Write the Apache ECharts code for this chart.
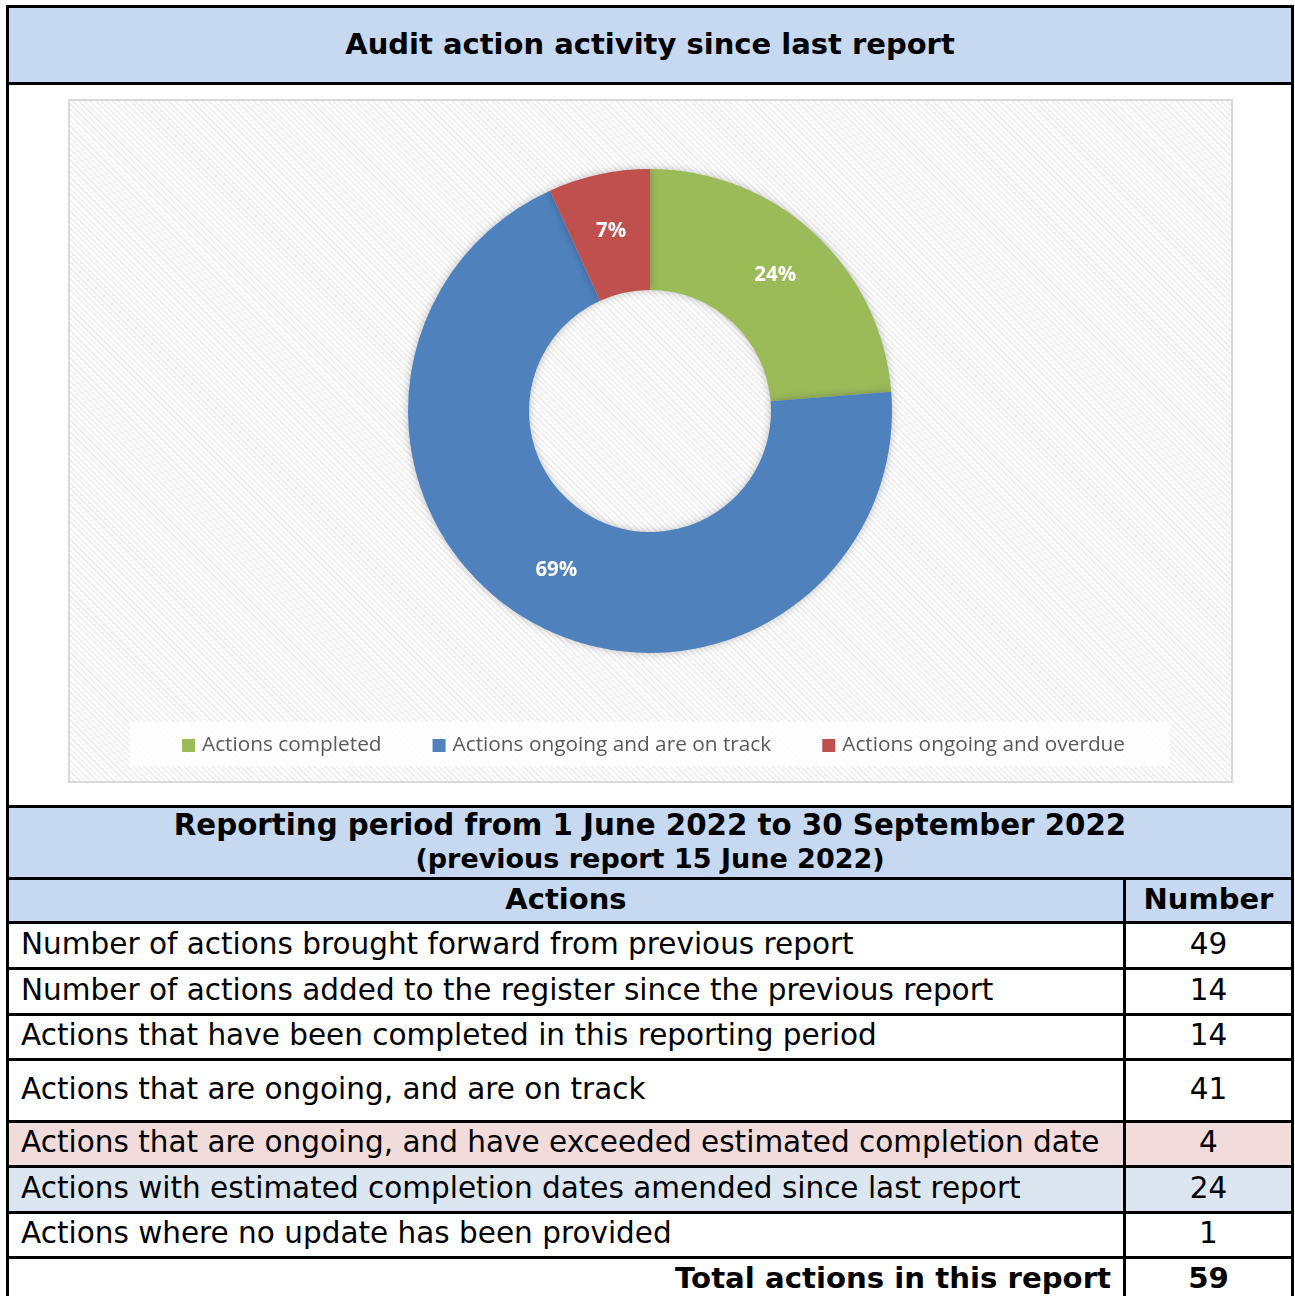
<!DOCTYPE html>
<html>
<head>
<meta charset="utf-8">
<script src="https://cdn.jsdelivr.net/npm/echarts@6/dist/echarts.min.js"></script>
<style>
    html, body { margin: 0; padding: 0; background: #fff; }
    body { width: 1295px; height: 1296px; position: relative; overflow: hidden; font-family: "DejaVu Sans", Verdana, sans-serif; color: #000; }
    #titleBand { position: absolute; left: 6px; top: 5px; width: 1288px; height: 80px; box-sizing: border-box; border: 3px solid #000; background: #c6d9f1; text-align: center; font-weight: bold; font-size: 29px; line-height: 72px; }
    #chartFrame { position: absolute; left: 6px; top: 82px; width: 1288px; height: 726px; box-sizing: border-box; border-left: 3px solid #000; border-right: 3px solid #000; }
    #map { position: absolute; left: 68px; top: 99px; width: 1165px; height: 684px; box-sizing: border-box; border: 2px solid #d9d9d9;
        background: repeating-linear-gradient(45deg, #ffffff 0px, #ffffff 2px, #f0f0f0 2px, #f0f0f0 4px); }
    #tbl { position: absolute; left: 6px; top: 805px; width: 1288px; border-collapse: collapse; table-layout: fixed; }
    #tbl td { border: 3px solid #000; padding: 0 12px 4px 12px; font-size: 29.5px; white-space: nowrap; overflow: hidden; line-height: 36px; }
    #tbl td.num { text-align: center; padding: 0 0 4px 0; }
    #tbl tr.head td { background: #c6d9f1; font-weight: bold; text-align: center; font-size: 29px; }
    #tbl tr.period td { line-height: 33px; padding-top: 0; padding-bottom: 2px; font-size: 29.3px; }
    #tbl tr.period .l2 { font-size: 27px; }
    #tbl tr.pink td { background: #f2dcdb; }
    #tbl tr.lblue td { background: #dce6f1; }
    #tbl tr.total td { font-weight: bold; font-size: 29.2px; }
    #tbl tr.total td.lab { text-align: right; }
</style>
</head>
<body>
<div id="titleBand"></div>
<div id="chartFrame"></div>
<div id="map"></div>
<table id="tbl"></table>
<script>
'use strict';
(function() {

    var titleText = 'Audit action activity since last report';
    var periodLine1 = 'Reporting period from 1 June 2022 to 30 September 2022';
    var periodLine2 = '(previous report 15 June 2022)';
    var colHeads = ['Actions', 'Number'];

    var sliceNames = ['Actions completed', 'Actions ongoing and are on track', 'Actions ongoing and overdue'];
    var sliceValues = [14, 41, 4];
    var sliceColors = ['#9bbb59', '#4f81bd', '#c0504d'];

    var rowLabels = [
        'Number of actions brought forward from previous report',
        'Number of actions added to the register since the previous report',
        'Actions that have been completed in this reporting period',
        'Actions that are ongoing, and are on track',
        'Actions that are ongoing, and have exceeded estimated completion date',
        'Actions with estimated completion dates amended since last report',
        'Actions where no update has been provided'
    ];
    var rowNumbers = [49, 14, 14, 41, 4, 24, 1];
    var rowClass = ['', '', '', '', 'pink', 'lblue', ''];
    var rowHeights = [46, 46, 45, 62, 45, 46, 45];
    var totalLabel = 'Total actions in this report';
    var totalValue = 59;

    document.getElementById('titleBand').textContent = titleText;

    // table
    var html = '<colgroup><col style="width:1117px"><col></colgroup>';
    html += '<tr class="head period" style="height:72px"><td colspan="2">' + periodLine1 +
        '<br><span class="l2">' + periodLine2 + '</span></td></tr>';
    html += '<tr class="head" style="height:44px"><td>' + colHeads[0] + '</td><td class="num">' + colHeads[1] + '</td></tr>';
    for (var i = 0; i < rowLabels.length; i++) {
        html += '<tr class="' + rowClass[i] + '" style="height:' + rowHeights[i] + 'px"><td>' + rowLabels[i] +
            '</td><td class="num">' + rowNumbers[i] + '</td></tr>';
    }
    html += '<tr class="total" style="height:44px"><td class="lab">' + totalLabel + '</td><td class="num">' + totalValue + '</td></tr>';
    document.getElementById('tbl').innerHTML = html;

    // donut
    var chart = echarts.init(document.getElementById('map'));
    var pieData = [];
    for (var j = 0; j < sliceNames.length; j++) {
        pieData.push({ name: sliceNames[j], value: sliceValues[j], itemStyle: { color: sliceColors[j] } });
    }

    chart.setOption({
        animation: false,
        backgroundColor: 'transparent',
        graphic: [{
            type: 'rect',
            left: 60, top: 621,
            shape: { width: 1040, height: 44 },
            style: { fill: 'rgba(255,255,255,0.85)' },
            silent: true
        }],
        legend: {
            top: 629,
            left: 107,
            itemGap: 51,
            itemWidth: 13,
            itemHeight: 13,
            icon: 'rect',
            textStyle: { fontFamily: 'Open Sans', fontSize: 20.8, color: '#595959', padding: [0, 0, 0, 2] },
            data: sliceNames
        },
        series: [{
            type: 'pie',
            center: [580, 310],
            radius: [121, 242],
            startAngle: 90,
            clockwise: true,
            avoidLabelOverlap: false,
            itemStyle: { shadowBlur: 8, shadowColor: 'rgba(0,0,0,0.25)' },
            label: {
                position: 'inside',
                color: '#fff',
                fontFamily: 'Open Sans',
                fontWeight: 'bold',
                fontSize: 20.5,
                formatter: function(p) { return Math.round(p.percent) + '%'; }
            },
            labelLine: { show: false },
            emphasis: { disabled: true },
            data: pieData
        }]
    });

})();
</script>
</body>
</html>
